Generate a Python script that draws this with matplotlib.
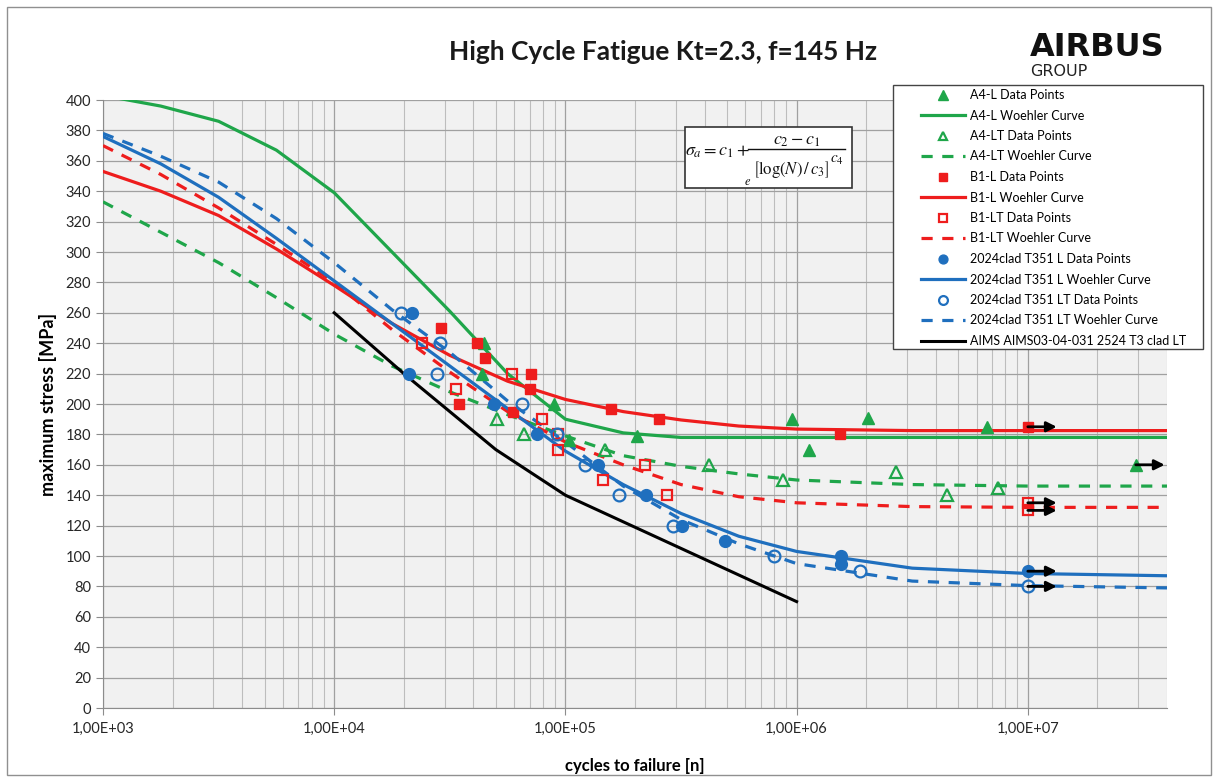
import matplotlib
matplotlib.use('Agg')
import matplotlib.pyplot as plt
from matplotlib.patches import Rectangle
from matplotlib.lines import Line2D
from matplotlib.ticker import FixedLocator, LogLocator, NullFormatter

# ---------------- data ----------------
x_ticks = [1e3, 1e4, 1e5, 1e6, 1e7]
x_tick_labels = ['1,00E+03', '1,00E+04', '1,00E+05', '1,00E+06', '1,00E+07']
y_ticks = list(range(0, 401, 20))

# Woehler curves read at quarter decades
curve_N = [1000, 1778, 3162, 5623, 10000, 17783, 31623, 56234, 100000, 177828,
           316228, 562341, 1000000, 3162278, 10000000, 40000000]
a4l_curve = [403, 396, 386, 367, 339, 300, 261, 220, 190, 181, 178, 178, 178, 178, 178, 178]
a4lt_curve = [333, 313, 293, 270, 246, 225, 208, 193, 179, 166, 159, 154, 150, 147, 146, 146]
b1l_curve = [353, 340, 324, 302, 278, 253, 232, 215, 203, 195, 189.5, 185.5, 183.5, 182.5, 182.5, 182.5]
b1lt_curve = [370, 351, 329, 305, 280, 249, 221, 195, 175, 160, 147, 139, 135, 132.5, 132, 132]
l2024_curve = [376, 358, 336, 309, 281, 253, 225, 197, 169, 147, 128, 113, 103, 92, 88.5, 87]
lt2024_curve = [378, 363, 346, 322, 293, 262, 234, 202, 175, 146, 124, 108, 95, 83.5, 80.5, 79]

aims_N = [10000, 20000, 50000, 100000, 1000000]
aims_S = [260, 220, 170, 140, 70]

# test data points
a4l_N = [44300, 43500, 89700, 104000, 205000, 955000, 1130000, 2040000, 6650000, 29300000]
a4l_S = [240, 220, 200, 176, 179, 190, 170, 191, 185, 160]
a4lt_N = [50800, 66000, 149000, 419000, 870000, 2690000, 4470000, 7400000]
a4lt_S = [190, 180, 170, 160, 150, 155, 140, 145]
b1l_N = [29100, 41300, 45100, 71300, 70000, 34500, 59600, 158000, 255000, 1540000, 10000000]
b1l_S = [250, 240, 230, 220, 210, 200, 195, 197, 190, 180, 185]
b1lt_N = [23900, 33500, 58500, 79000, 93000, 93000, 145000, 222000, 276000, 10000000, 10000000]
b1lt_S = [240, 210, 220, 190, 180, 170, 150, 160, 140, 135, 130]
l2024_N = [21800, 21000, 49300, 75000, 139000, 224000, 320000, 490000, 1550000, 1550000, 10000000]
l2024_S = [260, 220, 200, 180, 160, 140, 120, 110, 100, 95, 90]
lt2024_N = [19500, 28800, 27700, 64600, 92000, 121000, 171000, 293000, 800000, 1880000, 10000000]
lt2024_S = [260, 240, 220, 200, 180, 160, 140, 120, 100, 90, 80]

# run-outs (arrows)
runout_N = [10000000, 10000000, 10000000, 10000000, 10000000, 29300000]
runout_S = [185, 135, 130, 90, 80, 160]

labels = ['A4-L Data Points', 'A4-L Woehler Curve', 'A4-LT Data Points', 'A4-LT Woehler Curve',
          'B1-L Data Points', 'B1-L Woehler Curve', 'B1-LT Data Points', 'B1-LT Woehler Curve',
          '2024clad T351 L Data Points', '2024clad T351 L Woehler Curve',
          '2024clad T351 LT Data Points', '2024clad T351 LT Woehler Curve',
          'AIMS AIMS03-04-031 2524 T3 clad LT']

# ---------------- style ----------------
GREEN = '#1fa64a'
RED = '#ee1d1d'
BLUE = '#1f6fbe'
FONT = ['Lato', 'DejaVu Sans']
plt.rcParams['font.family'] = FONT
plt.rcParams['mathtext.fontset'] = 'stix'

W, H = 1218, 782


def fx(x):
    return x / W


def fy(y):
    return 1 - y / H


fig = plt.figure(figsize=(W / 100, H / 100), dpi=100)
ax = fig.add_axes([fx(103), fy(708), (1167 - 103) / W, (708 - 100) / H])
ax.set_facecolor('#f1f1f1')
ax.set_xscale('log')
ax.set_xlim(1e3, 4e7)
ax.set_ylim(0, 400)

ax.xaxis.set_major_locator(FixedLocator(x_ticks))
ax.set_xticklabels(x_tick_labels)
ax.xaxis.set_minor_locator(LogLocator(base=10, subs=range(2, 10)))
ax.xaxis.set_minor_formatter(NullFormatter())
ax.set_yticks(y_ticks)
ax.grid(True, which='major', color='#a0a0a0', lw=0.9)
ax.grid(True, which='minor', axis='x', color='#bdbdbd', lw=0.8)
ax.set_axisbelow(True)
ax.tick_params(axis='both', which='major', labelsize=10.5, color='#8c8c8c', length=5,
               labelcolor='#262626')
ax.tick_params(axis='x', which='minor', length=0)
ax.tick_params(axis='x', which='major', pad=5)
for s in ['top', 'right']:
    ax.spines[s].set_visible(False)
for s in ['left', 'bottom']:
    ax.spines[s].set_color('#8c8c8c')

lw = 2.3
h = []
h.append(ax.plot(a4l_N, a4l_S, ls='none', marker='^', ms=9, color=GREEN, zorder=5)[0])
h.append(ax.plot(curve_N, a4l_curve, color=GREEN, lw=lw, zorder=3)[0])
h.append(ax.plot(a4lt_N, a4lt_S, ls='none', marker='^', ms=8, mfc='none', mew=1.6, color=GREEN, zorder=5)[0])
h.append(ax.plot(curve_N, a4lt_curve, color=GREEN, lw=lw, ls=(0, (3.5, 3)), zorder=3)[0])
h.append(ax.plot(b1l_N, b1l_S, ls='none', marker='s', ms=7.5, color=RED, zorder=5)[0])
h.append(ax.plot(curve_N, b1l_curve, color=RED, lw=lw, zorder=3)[0])
h.append(ax.plot(b1lt_N, b1lt_S, ls='none', marker='s', ms=7.5, mfc='none', mew=1.6, color=RED, zorder=5)[0])
h.append(ax.plot(curve_N, b1lt_curve, color=RED, lw=lw, ls=(0, (3.5, 3)), zorder=3)[0])
h.append(ax.plot(l2024_N, l2024_S, ls='none', marker='o', ms=8.5, color=BLUE, zorder=5)[0])
h.append(ax.plot(curve_N, l2024_curve, color=BLUE, lw=lw, zorder=3)[0])
h.append(ax.plot(lt2024_N, lt2024_S, ls='none', marker='o', ms=8.5, mfc='none', mew=1.6, color=BLUE, zorder=5)[0])
h.append(ax.plot(curve_N, lt2024_curve, color=BLUE, lw=lw, ls=(0, (3.5, 3)), zorder=3)[0])
h.append(ax.plot(aims_N, aims_S, color='black', lw=2.2, zorder=3)[0])

for n, s in zip(runout_N, runout_S):
    ax.annotate('', xy=(n * 10 ** 0.125, s), xytext=(n, s),
                arrowprops=dict(arrowstyle='-|>,head_length=0.6,head_width=0.3',
                                color='black', lw=2.0, shrinkA=0, shrinkB=0), zorder=6)

ax.set_xlabel('cycles to failure [n]', fontsize=12, fontweight='bold', labelpad=16)
ax.set_ylabel('maximum stress [MPa]', fontsize=13, fontweight='bold', labelpad=6)

fig.text(fx(663), fy(52), 'High Cycle Fatigue Kt=2.3, f=145 Hz', fontsize=19,
         fontweight='bold', ha='center', va='center', color='#1a1a1a')

# logo
fig.text(fx(1097), fy(47), 'AIRBUS', fontsize=23, fontweight='heavy', ha='center',
         va='center', family=['DejaVu Sans'], color='#111111')
fig.text(fx(1030), fy(71), 'GROUP', fontsize=11.5, ha='left', va='center',
         family=['DejaVu Sans'], color='#222222')

# formula box
fig.add_artist(Rectangle((fx(685), fy(188)), 167 / W, 61 / H, transform=fig.transFigure,
                         facecolor='white', edgecolor='#333333', lw=1.2, zorder=4))
ftxt = dict(va='center', zorder=5, color='#111111')
fig.text(fx(717), fy(152), r'$\sigma_a = c_1 +$', fontsize=13, ha='center', **ftxt)
fig.text(fx(797), fy(141), r'$c_2 - c_1$', fontsize=13, ha='center', **ftxt)
fig.add_artist(Line2D([fx(748), fx(845)], [fy(149), fy(149)], transform=fig.transFigure,
                      color='#111111', lw=1.0, zorder=5))
fig.text(fx(744), fy(181), r'$e$', fontsize=9, ha='left', **ftxt)
fig.text(fx(753), fy(169), r'$\left[\log(N)\,/\,c_3\right]$', fontsize=12, ha='left', **ftxt)
fig.text(fx(830), fy(160), r'$c_4$', fontsize=11, ha='left', **ftxt)

# legend (frame drawn separately to match the wide box)
fig.add_artist(Rectangle((fx(893), fy(349)), 310 / W, 264 / H, transform=fig.transFigure,
                         facecolor='white', edgecolor='#444444', lw=1.0, zorder=9))
leg = fig.legend(h, labels, loc='upper left', bbox_to_anchor=(fx(921), fy(89)),
                 bbox_transform=fig.transFigure, borderaxespad=0, frameon=False,
                 fontsize=9, handlelength=3.55, labelspacing=0.68, borderpad=0,
                 handletextpad=0.35, markerscale=0.75)
leg.set_zorder(10)

# outer border
fig.add_artist(Rectangle((fx(7), 7 / H), (W - 14) / W, (H - 14) / H, transform=fig.transFigure,
                         fill=False, edgecolor='#909090', lw=1.0))

fig.savefig('out.png', dpi=100)
